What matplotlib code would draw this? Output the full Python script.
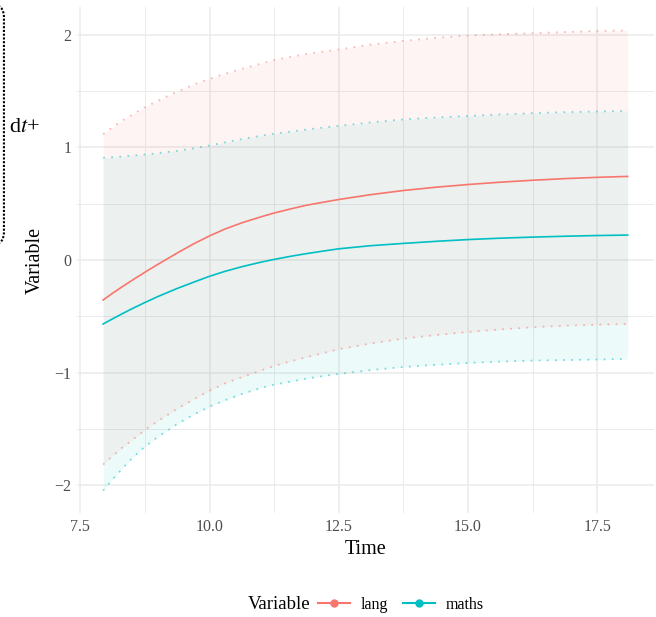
import matplotlib
matplotlib.use("Agg")
import matplotlib.pyplot as plt
from matplotlib.lines import Line2D
from matplotlib.patches import FancyBboxPatch

plt.rcParams["font.family"] = ["Liberation Serif", "DejaVu Serif"]
plt.rcParams["mathtext.fontset"] = "stix"

# values
time = [7.94, 8.1, 8.3, 8.5, 8.75, 9.0, 9.375, 9.7, 10, 10.3, 10.625, 11.0, 11.25,
        11.6, 11.875, 12.2, 12.5, 13.1, 13.75, 14.4, 15, 15.6, 16.25, 16.9, 17.5, 18.09]

lang_mean = [-0.355, -0.302, -0.24, -0.18, -0.108, -0.038, 0.063, 0.146, 0.215, 0.276, 0.331, 0.385, 0.418,
             0.458, 0.487, 0.514, 0.538, 0.58, 0.618, 0.648, 0.671, 0.691, 0.709, 0.724, 0.735, 0.743]
lang_upper = [1.118, 1.172, 1.236, 1.29, 1.357, 1.415, 1.496, 1.56, 1.61, 1.655, 1.699, 1.745, 1.776,
              1.808, 1.83, 1.852, 1.87, 1.913, 1.947, 1.975, 1.995, 2.006, 2.015, 2.026, 2.035, 2.04]
lang_lower = [-1.817, -1.75, -1.67, -1.6, -1.509, -1.43, -1.32, -1.235, -1.16, -1.095, -1.04, -0.98, -0.94,
              -0.895, -0.863, -0.826, -0.792, -0.742, -0.698, -0.665, -0.639, -0.617, -0.597, -0.583, -0.574, -0.568]

maths_mean = [-0.568, -0.528, -0.479, -0.432, -0.377, -0.324, -0.252, -0.195, -0.144, -0.1, -0.059, -0.018, 0.006,
              0.036, 0.057, 0.08, 0.1, 0.127, 0.148, 0.167, 0.182, 0.194, 0.204, 0.212, 0.218, 0.222]
maths_upper = [0.909, 0.913, 0.92, 0.927, 0.938, 0.95, 0.97, 0.993, 1.018, 1.046, 1.074, 1.105, 1.122,
               1.143, 1.16, 1.177, 1.192, 1.222, 1.25, 1.267, 1.28, 1.293, 1.305, 1.314, 1.32, 1.325]
maths_lower = [-2.048, -1.96, -1.858, -1.76, -1.657, -1.57, -1.456, -1.37, -1.302, -1.245, -1.19, -1.135, -1.107,
               -1.077, -1.053, -1.03, -1.012, -0.978, -0.95, -0.93, -0.914, -0.902, -0.893, -0.888, -0.884, -0.878]

series = ["lang", "maths"]
colors = {"lang": "#F8766D", "maths": "#00BFC4"}

x_major = [7.5, 10, 12.5, 15, 17.5]
x_labels = ["7.5", "10.0", "12.5", "15.0", "17.5"]
x_minor = [8.75, 11.25, 13.75, 16.25]
y_major = [-2, -1, 0, 1, 2]
y_labels = ["\u22122", "\u22121", "0", "1", "2"]
y_minor = [-1.5, -0.5, 0.5, 1.5]

fig = plt.figure(figsize=(6.56, 6.17), dpi=100)
ax = fig.add_axes([0.117, 0.168, 0.880, 0.821])

# ribbons (maths first so the overlap looks greyish)
ax.fill_between(time, maths_lower, maths_upper, color=colors["maths"], alpha=0.075, lw=0, zorder=2)
ax.fill_between(time, lang_lower, lang_upper, color=colors["lang"], alpha=0.075, lw=0, zorder=2)

for lo, hi, c in [(lang_lower, lang_upper, colors["lang"]), (maths_lower, maths_upper, colors["maths"])]:
    ax.plot(time, lo, color=c, alpha=0.5, lw=1.3, ls=(0, (1, 3.5)), zorder=3)
    ax.plot(time, hi, color=c, alpha=0.5, lw=1.3, ls=(0, (1, 3.5)), zorder=3)

ax.plot(time, lang_mean, color=colors["lang"], lw=1.2, zorder=4, solid_joinstyle="round")
ax.plot(time, maths_mean, color=colors["maths"], lw=1.2, zorder=4, solid_joinstyle="round")

ax.set_xlim(7.43, 18.6)
ax.set_ylim(-2.25, 2.25)
ax.set_xticks(x_major)
ax.set_xticklabels(x_labels)
ax.set_xticks(x_minor, minor=True)
ax.set_yticks(y_major)
ax.set_yticklabels(y_labels)
ax.set_yticks(y_minor, minor=True)

ax.grid(True, which="major", color="#EBEBEB", lw=1.1, zorder=0)
ax.grid(True, which="minor", color="#EBEBEB", lw=0.7, zorder=0)
ax.set_axisbelow(True)
for s in ax.spines.values():
    s.set_visible(False)
ax.tick_params(which="both", length=0, labelsize=11.5, labelcolor="#4D4D4D", pad=4)

ax.set_xlabel("Time", fontsize=14.5, labelpad=4)
ax.set_ylabel("Variable", fontsize=14.5, labelpad=7)

# legend at the bottom
fig.text(0.378, 0.0195, "Variable", fontsize=13.5, va="center", ha="left")
handles = [Line2D([], [], color=colors[s], marker="o", ms=5, lw=1.5) for s in series]
fig.legend(handles, series, loc="center left", bbox_to_anchor=(0.485, 0.0195), ncol=2,
           frameon=False, fontsize=11.5, handlelength=2.0, handletextpad=0.65,
           columnspacing=0.95, borderpad=0, borderaxespad=0)

# box cut off at the left edge
box = FancyBboxPatch((-0.05, 0.603), 0.056, 0.39, boxstyle="round,pad=0,rounding_size=0.02",
                     transform=fig.transFigure, fill=False, ec="black", lw=1.5,
                     ls=(0, (1, 0.8)), clip_on=False)
fig.patches.append(box)
fig.text(0.014, 0.794, r"d$t$+", fontsize=16, va="center", ha="left")

fig.savefig("out.png", dpi=100)
